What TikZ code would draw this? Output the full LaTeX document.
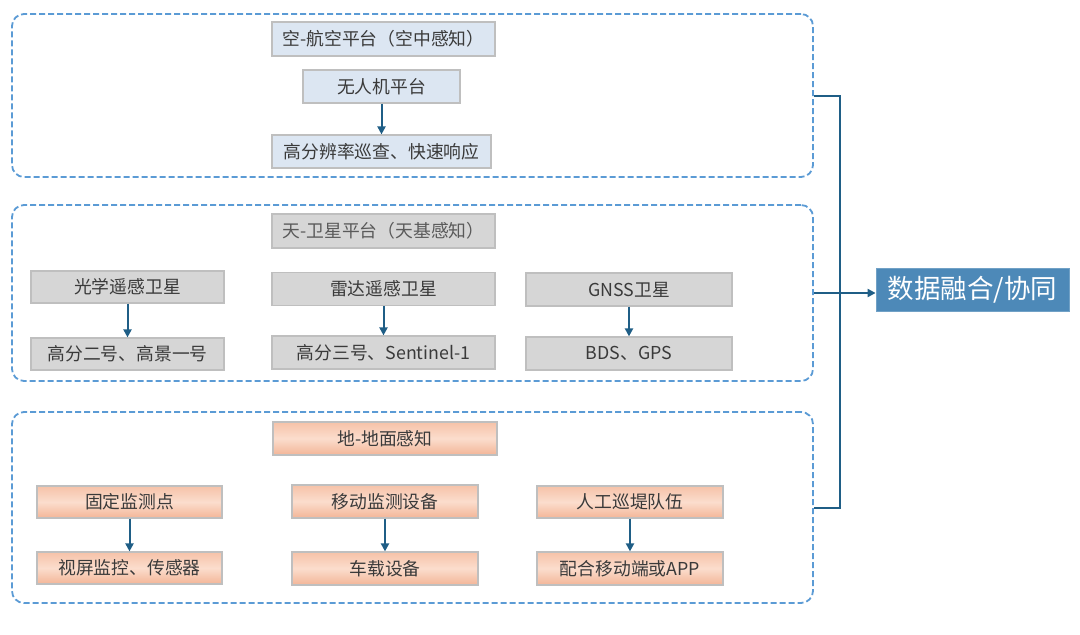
\documentclass[tikz,border=0pt]{standalone}
\usepackage{fontspec}
\setmainfont{Noto Sans CJK SC}
\usetikzlibrary{arrows.meta,shadings}
\definecolor{frameblue}{HTML}{5B9BD5}
\definecolor{arrowc}{HTML}{1F5E86}
\definecolor{bluefill}{HTML}{DCE6F2}
\definecolor{grayfill}{HTML}{D6D6D6}
\definecolor{boxline}{HTML}{BFBFBF}
\definecolor{txt}{HTML}{3A3A3A}
\definecolor{txtgray}{HTML}{5A5A5A}
\definecolor{fusefill}{HTML}{4D89B8}
\definecolor{orA}{HTML}{F6C2A8}
\definecolor{orB}{HTML}{FBDDCD}
\definecolor{orC}{HTML}{F3B597}
\tikzset{
  frame/.style={draw=frameblue, line width=1.8pt, dash pattern=on 6pt off 3pt, rounded corners=12pt, minimum width=801pt, inner sep=0pt},
  base/.style={draw=boxline, line width=1.2pt, inner sep=0pt, font=\fontsize{17.8}{20}\selectfont, text=txt},
  bluebox/.style={base, fill=bluefill},
  graybox/.style={base, fill=grayfill},
  orbox/.style={base, top color=orA, bottom color=orC, middle color=orB},
  arr/.style={draw=arrowc, line width=2pt, -{Triangle[length=8pt,width=8pt]}},
  bus/.style={draw=arrowc, line width=2pt},
  fuse/.style={fill=fusefill, draw=fusefill!80!white, line width=0.8pt, text=white, inner sep=0pt, font=\fontsize{26.5}{30}\selectfont, minimum width=193pt, minimum height=43pt}
}
\begin{document}
\begin{tikzpicture}[x=1pt,y=-1pt]
\useasboundingbox[fill=white] (0,0) rectangle (1080,635);
% frames
\node[frame, minimum height=163pt] (fA) at (412.5,95.5) {};
\node[frame, minimum height=176pt] (fB) at (412.5,293) {};
\node[frame, minimum height=191pt] (fC) at (412.5,507.5) {};
% air
\node[bluebox, minimum width=223pt, minimum height=34pt] (tA) at (383.5,39) {空-航空平台（空中感知）};
\node[bluebox, minimum width=157pt, minimum height=33pt] (tB) at (381.5,86.5) {无人机平台};
\node[bluebox, minimum width=219pt, minimum height=33pt] (tC) at (381.5,151.5) {高分辨率巡查、快速响应};
\draw[arr] (tB.south) -- (tC.north);
% space
\node[graybox, text=txtgray, minimum width=223pt, minimum height=34pt] (mA) at (383.5,231) {天-卫星平台（天基感知）};
\node[graybox, minimum width=193pt, minimum height=32pt] (m1) at (127.5,287) {光学遥感卫星};
\node[graybox, minimum width=193pt, minimum height=32pt] (m2) at (127.5,354) {高分二号、高景一号};
\node[graybox, minimum width=223pt, minimum height=33pt] (m3) at (383.5,289) {雷达遥感卫星};
\node[graybox, minimum width=223pt, minimum height=33pt] (m4) at (383.5,352.5) {高分三号、Sentinel-1};
\node[graybox, minimum width=206pt, minimum height=33pt] (m5) at (629,289.5) {GNSS卫星};
\node[graybox, minimum width=206pt, minimum height=33pt] (m6) at (629,353.5) {BDS、GPS};
\draw[arr] (m1.south) -- (m2.north);
\draw[arr] (m3.south) -- (m4.north);
\draw[arr] (m5.south) -- (m6.north);
% ground
\node[orbox, minimum width=224pt, minimum height=33pt] (bA) at (385,438.5) {地-地面感知};
\node[orbox, minimum width=185pt, minimum height=32pt] (b1) at (129.5,502) {固定监测点};
\node[orbox, minimum width=185pt, minimum height=32pt] (b2) at (129.5,568) {视屏监控、传感器};
\node[orbox, minimum width=186pt, minimum height=33pt] (b3) at (385,501.5) {移动监测设备};
\node[orbox, minimum width=186pt, minimum height=33pt] (b4) at (385,568.5) {车载设备};
\node[orbox, minimum width=186pt, minimum height=32pt] (b5) at (630,502) {人工巡堤队伍};
\node[orbox, minimum width=186pt, minimum height=33pt] (b6) at (630,568.5) {配合移动端或APP};
\draw[arr] (b1.south) -- (b2.north);
\draw[arr] (b3.south) -- (b4.north);
\draw[arr] (b5.south) -- (b6.north);
% fusion
\node[fuse] (fuse) at (972.5,289.5) {数据融合/协同};
\coordinate (bx) at (840,0);
\draw[bus] (fA.east) -| (bx |- fC.east) -- (fC.east);
\draw[arr] (fB.east) -- (fB.east -| fuse.west);
\end{tikzpicture}
\end{document}
